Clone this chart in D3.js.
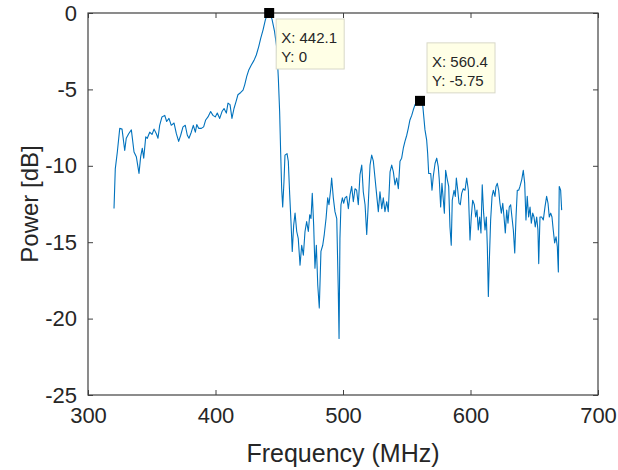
<!DOCTYPE html>
<html lang="en">
<head>
<meta charset="utf-8">
<script type="text/javascript" src="https://d3js.org/d3.v7.min.js"></script>
<style type="text/css">
    body { margin: 0; background: #fff; }
    svg text { font-family: "Liberation Sans", Arial, Helvetica, sans-serif; fill: #262626; }
</style>
</head>
<body>
<div id="chart"></div>
<script type="text/javascript">

// spectrum (MHz / dB)
var freq = [
    320.4, 321.4, 323.0, 324.9, 326.7, 328.8, 330.0, 331.9, 334.0, 336.1,
    337.9, 340.0, 341.3, 342.6, 343.7, 345.3, 346.5, 348.4, 350.2, 351.8,
    353.6, 354.9, 356.2, 358.0, 360.2, 361.7, 363.5, 365.3, 367.5, 369.3,
    371.1, 372.7, 374.5, 376.3, 377.9, 379.2, 381.0, 382.6, 384.2, 385.3,
    386.8, 388.9, 390.7, 392.3, 394.1, 396.2, 398.0, 399.8, 401.4, 403.3,
    405.1, 406.7, 408.5, 409.8, 411.4, 412.9, 414.5, 416.1, 417.6, 419.8,
    421.6, 422.9, 424.5, 426.0, 428.1, 430.2, 432.0, 433.9, 435.5, 437.3,
    439.1, 440.6, 442.1, 444.3, 446.3, 448.1, 449.3, 450.3, 451.1, 451.9,
    452.7, 453.7, 454.5, 456.1, 457.1, 458.2, 459.2, 460.2, 461.3, 462.4,
    463.7, 464.9, 466.3, 467.6, 468.9, 470.2, 471.5, 472.8, 473.9, 474.9,
    475.9, 477.0, 478.0, 479.1, 480.2, 481.4, 482.7, 484.1, 485.3, 486.7,
    488.0, 489.0, 490.4, 491.1, 492.4, 493.7, 495.1, 496.3, 496.9, 497.6,
    498.4, 499.5, 500.5, 501.6, 502.9, 504.2, 505.5, 506.8, 508.1, 509.4,
    510.7, 512.0, 513.3, 514.7, 515.9, 517.3, 518.6, 519.8, 521.2, 522.5,
    523.8, 525.1, 526.4, 527.7, 529.0, 530.4, 531.6, 532.9, 534.3, 535.5,
    536.9, 538.2, 539.5, 540.8, 542.1, 543.4, 544.7, 546.0, 547.3, 548.6,
    550.0, 551.2, 552.5, 553.9, 555.1, 556.5, 558.6, 560.4, 562.5, 564.3,
    565.6, 566.4, 567.2, 568.8, 569.8, 570.8, 572.2, 573.5, 574.7, 575.5,
    576.6, 577.6, 578.7, 579.5, 580.5, 581.8, 582.9, 583.9, 584.9, 585.7,
    587.1, 588.1, 588.9, 590.0, 591.0, 592.0, 593.1, 594.3, 595.7, 597.0,
    598.3, 599.6, 600.6, 601.7, 603.0, 604.1, 605.1, 606.1, 607.2, 608.2,
    609.2, 610.3, 611.4, 612.4, 613.2, 614.0, 614.7, 615.8, 616.9, 617.9,
    619.2, 620.0, 621.0, 622.1, 623.1, 624.2, 625.3, 626.3, 627.3, 628.4,
    629.4, 630.4, 631.5, 632.5, 633.6, 634.7, 635.7, 636.7, 637.8, 638.8,
    640.2, 641.4, 642.5, 643.5, 644.5, 645.6, 646.7, 647.7, 648.8, 649.8,
    650.8, 651.9, 652.9, 653.5, 654.5, 655.8, 657.1, 658.4, 659.7, 660.8,
    661.8, 662.9, 663.9, 664.9, 666.0, 667.1, 668.1, 668.9, 669.6, 670.7,
    671.5
];
var power = [
    -12.8, -10.2, -9.1, -7.55, -7.6, -9.0, -8.2, -7.9, -7.65, -9.1,
    -9.4, -10.5, -9.4, -8.85, -9.5, -8.1, -8.2, -7.8, -7.95, -7.6,
    -7.9, -8.2, -7.35, -6.8, -6.7, -7.1, -6.9, -7.35, -7.2, -7.9,
    -8.4, -8.0, -7.45, -7.35, -8.0, -8.2, -7.8, -7.35, -7.8, -7.3,
    -7.55, -7.55, -7.45, -7.0, -6.8, -6.45, -6.7, -6.8, -6.55, -6.9,
    -6.45, -6.25, -6.55, -5.9, -6.0, -6.9, -6.25, -5.8, -5.35, -5.2,
    -5.05, -4.7, -4.15, -3.75, -3.4, -3.1, -2.75, -2.2, -1.65, -1.1,
    -0.45, -0.1, 0, -0.4, -1.2, -2.3, -4.3, -6.45, -9.1, -11.5,
    -12.7, -11.05, -9.3, -9.2, -9.7, -11.9, -13.65, -15.6, -13.9, -13.1,
    -14.3, -14.75, -16.5, -15.2, -15.85, -14.3, -13.65, -14.3, -13.2, -13.45,
    -11.8, -13.9, -16.7, -15.2, -17.8, -19.3, -15.6, -15.2, -14.5, -13.45,
    -12.1, -12.55, -11.5, -10.8, -12.1, -13.0, -13.45, -18.2, -21.3, -14.75,
    -12.55, -12.1, -12.45, -12.1, -12.0, -12.8, -11.9, -11.35, -12.35, -11.5,
    -11.6, -12.55, -10.6, -9.95, -11.7, -12.55, -14.5, -12.55, -9.95, -9.3,
    -9.7, -10.8, -11.9, -13.0, -11.7, -12.8, -12.1, -13.0, -12.35, -13.0,
    -10.4, -9.95, -10.4, -11.25, -10.8, -11.5, -9.7, -9.5, -8.85, -8.4,
    -8.0, -7.55, -7.0, -6.7, -6.35, -6.0, -5.8, -5.75, -6.0, -7.65,
    -8.3, -9.2, -10.5, -10.5, -11.6, -10.7, -9.85, -9.5, -10.05, -10.9,
    -12.7, -11.15, -12.25, -13.1, -10.3, -10.9, -11.35, -14.0, -15.2, -12.25,
    -11.6, -12.0, -10.8, -11.6, -12.45, -12.55, -11.8, -11.5, -11.6, -10.8,
    -11.6, -14.85, -13.35, -12.25, -12.55, -13.35, -12.9, -14.2, -13.35, -14.4,
    -11.25, -13.1, -14.2, -13.35, -15.3, -18.55, -16.4, -13.55, -12.0, -11.6,
    -12.0, -11.35, -11.15, -11.6, -12.45, -13.1, -12.45, -13.35, -14.4, -12.9,
    -13.75, -12.7, -12.55, -13.35, -14.2, -15.7, -13.35, -11.6, -11.6, -11.35,
    -10.9, -10.3, -11.15, -13.55, -12.0, -13.35, -12.7, -13.75, -13.1, -13.35,
    -14.0, -13.35, -14.2, -16.4, -13.35, -13.35, -13.55, -12.7, -12.0, -12.45,
    -13.35, -13.1, -13.35, -14.2, -15.05, -14.65, -15.3, -16.95, -11.35, -11.6,
    -12.9
];

var xTicks = [300, 400, 500, 600, 700];
var yTicks = [-25, -20, -15, -10, -5, 0];

// data tips: x, y, text, and whether the box hangs below the marker
var tipX = [442.1, 560.4];
var tipY = [0, -5.75];
var tipText = [["X: 442.1", "Y: 0"], ["X: 560.4", "Y: -5.75"]];
var tipBelow = [true, false];

var width = 618, height = 470;
var pLeft = 88, pRight = 598, pTop = 13, pBottom = 395;

var x = d3.scaleLinear().domain([300, 700]).range([pLeft, pRight]);
var y = d3.scaleLinear().domain([-25, 0]).range([pBottom, pTop]);

// plain hyphen for negatives, like the original figure
var plain = function(d) { return String(d); };

var svg = d3.select("#chart")
    .append("svg")
    .attr("width", width)
    .attr("height", height);

// axes: ticks point inward on all four sides
function styleAxis(g) {
    g.selectAll("path").remove();
    g.selectAll("line").attr("stroke", "#404040");
    g.selectAll("text").attr("fill", "#262626").style("font-size", "22px");
}

svg.append("g")
    .attr("transform", "translate(0," + pBottom + ")")
    .call(d3.axisBottom(x).tickValues(xTicks).tickSize(-5).tickPadding(12).tickFormat(plain))
    .call(styleAxis);

svg.append("g")
    .attr("transform", "translate(0," + pTop + ")")
    .call(d3.axisTop(x).tickValues(xTicks).tickSize(-5).tickFormat(""))
    .call(styleAxis);

svg.append("g")
    .attr("transform", "translate(" + pLeft + ",0)")
    .call(d3.axisLeft(y).tickValues(yTicks).tickSize(-5).tickPadding(11).tickFormat(plain))
    .call(styleAxis);

svg.append("g")
    .attr("transform", "translate(" + pRight + ",0)")
    .call(d3.axisRight(y).tickValues(yTicks).tickSize(-5).tickFormat(""))
    .call(styleAxis);

svg.append("rect")
    .attr("x", pLeft)
    .attr("y", pTop)
    .attr("width", pRight - pLeft)
    .attr("height", pBottom - pTop)
    .attr("fill", "none")
    .attr("stroke", "#404040")
    .attr("stroke-width", 1.2);

// spectrum line
var line = d3.line()
    .x(function(d, i) { return x(freq[i]); })
    .y(function(d, i) { return y(power[i]); });

svg.append("path")
    .datum(freq)
    .attr("d", line)
    .attr("fill", "none")
    .attr("stroke", "#0072BD")
    .attr("stroke-width", 1.1)
    .attr("stroke-linejoin", "round");

// data tips
var tips = svg.selectAll(".tip")
    .data(tipX)
    .enter()
    .append("g")
    .attr("class", "tip")
    .attr("transform", function(d, i) {
        return "translate(" + x(d) + "," + y(tipY[i]) + ")";
    });

tips.each(function(d, i) {
    var g = d3.select(this);
    var top0 = tipBelow[i] ? 6 : -58;
    g.append("rect")
        .attr("x", 7)
        .attr("y", top0)
        .attr("width", 68)
        .attr("height", 50)
        .attr("fill", "#ffffe6")
        .attr("stroke", "#d8d8c8")
        .attr("stroke-width", 1);
    g.append("text")
        .attr("x", 12)
        .attr("y", top0 + 24)
        .style("font-size", "15px")
        .text(tipText[i][0]);
    g.append("text")
        .attr("x", 12)
        .attr("y", top0 + 43)
        .style("font-size", "15px")
        .text(tipText[i][1]);
});

tips.append("rect")
    .attr("x", -5)
    .attr("y", -5)
    .attr("width", 10)
    .attr("height", 10)
    .attr("fill", "#000");

// axis labels
svg.append("text")
    .attr("x", (pLeft + pRight) / 2)
    .attr("y", 462)
    .attr("text-anchor", "middle")
    .style("font-size", "25px")
    .text("Frequency (MHz)");

svg.append("text")
    .attr("transform", "translate(38," + (pTop + pBottom) / 2 + ") rotate(-90)")
    .attr("text-anchor", "middle")
    .style("font-size", "24px")
    .text("Power [dB]");

</script>
</body>
</html>
